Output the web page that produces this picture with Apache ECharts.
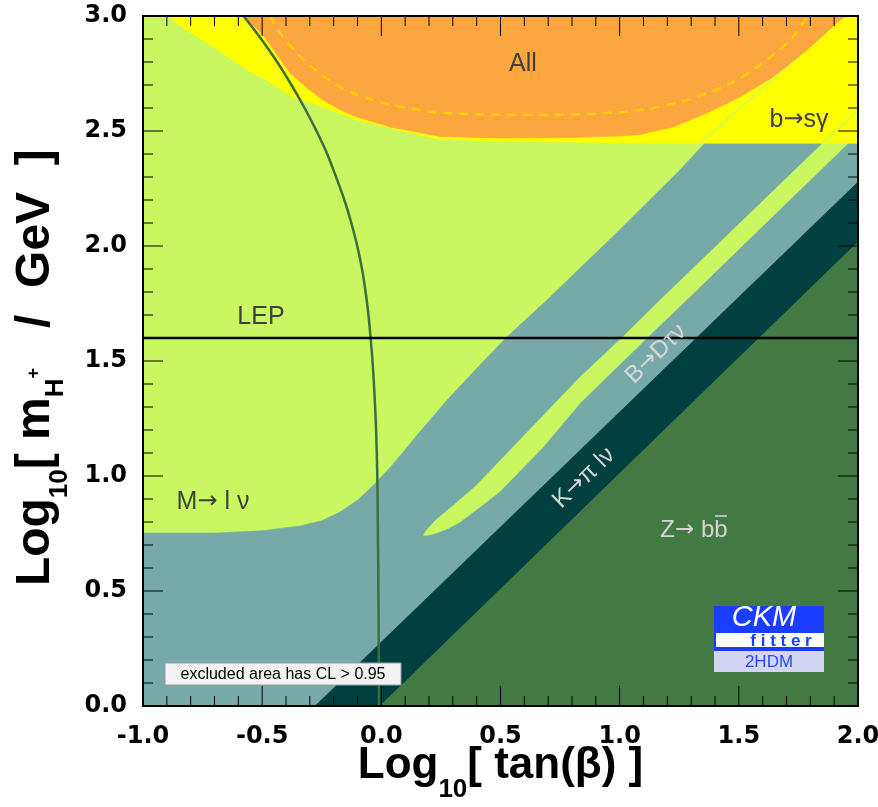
<!DOCTYPE html>
<html><head><meta charset="utf-8">
<script src="https://cdn.jsdelivr.net/npm/echarts@6/dist/echarts.min.js"></script>
<style>html,body{margin:0;padding:0;background:#fff}#c{width:878px;height:807px}</style>
</head><body><div id="c"></div>
<script>
// ---------- axes ----------
const xRange = [-1.0, 2.0];
const yRange = [0.0, 3.0];
const xTickLabels = ['-1.0','-0.5','0.0','0.5','1.0','1.5','2.0'];
const yTickLabels = ['0.0','0.5','1.0','1.5','2.0','2.5','3.0'];

// ---------- regions: [log10 tan(beta), log10 mH+] ----------
const regionPlot = [[-1.0,0.0],[2.0,0.0],[2.0,3.0],[-1.0,3.0]];
const regionMlnuBDtaunu = [[-1.0,0.0],[-1.0,0.752],[-0.7,0.752],[-0.5,0.762],[-0.34,0.783],[-0.25,0.805],[-0.173,0.843],[-0.1,0.895],[-0.035,0.958],[0.04,1.04],[0.1,1.115],[0.16,1.19],[0.276,1.33],[0.414,1.483],[0.527,1.604],[0.695,1.765],[1.0,2.07],[1.253,2.33],[1.36,2.45],[2.0,2.45],[2.0,0.0]];
const sliverBDtaunu = [[0.176,0.743],[0.19,0.765],[0.23,0.81],[0.30,0.87],[0.40,0.96],[0.553,1.126],[0.834,1.43],[1.009,1.6],[1.17,1.765],[1.855,2.45],[1.962,2.45],[1.28,1.765],[1.114,1.6],[0.834,1.317],[0.679,1.126],[0.50,0.935],[0.414,0.865],[0.33,0.80],[0.276,0.77],[0.23,0.752],[0.195,0.742]];
const bandKpilnu = [[-0.278,0.0],[2.0,2.278],[2.0,2.017],[-0.005,0.0]];
const regionZbb = [[-0.005,0.0],[2.0,2.017],[2.0,0.0]];
const regionBsgamma = [[-0.9,3.0],[-0.82,2.94],[-0.731,2.883],[-0.64,2.82],[-0.564,2.765],[-0.496,2.730],[-0.37,2.648],[-0.245,2.604],[-0.102,2.548],[0.036,2.513],[0.246,2.464],[0.5,2.456],[0.8,2.452],[1.2,2.447],[2.0,2.447],[2.0,3.0]];
const regionAll = [[-0.578,3.0],[-0.496,2.917],[-0.44,2.835],[-0.383,2.752],[-0.315,2.69],[-0.245,2.635],[-0.17,2.59],[-0.102,2.561],[0.036,2.517],[0.246,2.476],[0.5,2.47],[0.8,2.472],[1.0,2.478],[1.086,2.485],[1.224,2.517],[1.367,2.578],[1.505,2.648],[1.644,2.735],[1.786,2.852],[1.925,2.983],[1.95,3.0]];
const contourAllDashed = [[-0.467,3.0],[-0.413,2.909],[-0.312,2.796],[-0.173,2.691],[-0.035,2.635],[0.108,2.6],[0.267,2.578],[0.666,2.57],[0.9,2.575],[1.086,2.591],[1.25,2.625],[1.367,2.665],[1.48,2.715],[1.577,2.778],[1.715,2.896],[1.79,3.0]];
const contourMlnu = [[-0.578,3.0],[-0.504,2.9],[-0.437,2.8],[-0.377,2.7],[-0.322,2.6],[-0.272,2.5],[-0.227,2.4],[-0.19,2.3],[-0.155,2.2],[-0.126,2.1],[-0.101,2.0],[-0.081,1.9],[-0.066,1.8],[-0.054,1.7],[-0.045,1.6],[-0.037,1.5],[-0.031,1.4],[-0.026,1.3],[-0.022,1.2],[-0.017,1.0],[-0.013,0.6],[-0.011,0.3],[-0.01,0.0]];
const edgeBsgamma1 = [[1.34,2.45],[1.944,3.0]];
const edgeBsgamma2 = [[1.855,2.45],[2.0,2.59]];
const lepBound = [[-1.0,1.6],[2.0,1.6]];

// ---------- colours ----------
const C = {
  allowed:'#c8f75f', teal:'#77a9a8', dark:'#004040', zbb:'#437a43',
  yellow:'#ffff00', orange:'#fca640', dash:'#ffd200', curve:'#3c6e42'
};

function polySeries(name, pts, color, z) {
  return {
    type:'custom', name, coordinateSystem:'cartesian2d', xAxisIndex:0, yAxisIndex:0,
    z, silent:true, clip:true, data:pts, encode:{x:0,y:1},
    renderItem:(params, api) => params.dataIndex === 0 ? {
      type:'polygon', shape:{points: pts.map(p => api.coord(p))},
      style:{fill:color, stroke:color, lineWidth:0.6}
    } : null
  };
}
function lineSeries(name, pts, color, width, z, extra) {
  return Object.assign({
    type:'line', name, data:pts, xAxisIndex:0, yAxisIndex:0, z, silent:true,
    showSymbol:false, symbol:'none', smooth:0.3,
    lineStyle:{color, width}
  }, extra || {});
}
// frame + inward ticks (major every 0.5, minor every 0.1) on all four sides
const frameSeries = {
  type:'custom', name:'frame', coordinateSystem:'cartesian2d', xAxisIndex:0, yAxisIndex:0,
  z:50, silent:true, clip:false, data:[[xRange[0], yRange[0]]], encode:{x:0,y:1},
  renderItem:(params, api) => {
    const bl = api.coord([xRange[0], yRange[0]]), tr = api.coord([xRange[1], yRange[1]]);
    const ch = [];
    const st = {stroke:'#000', lineWidth:1};
    const nx = Math.round((xRange[1]-xRange[0])/0.1), ny = Math.round((yRange[1]-yRange[0])/0.1);
    for (let k = 0; k <= nx; k++) {
      const px = api.coord([xRange[0] + k*0.1, yRange[0]])[0];
      const len = k % 5 === 0 ? 20 : 10;
      ch.push({type:'line', shape:{x1:px, y1:bl[1], x2:px, y2:bl[1]-len}, style:st});
      ch.push({type:'line', shape:{x1:px, y1:tr[1], x2:px, y2:tr[1]+len}, style:st});
    }
    for (let k = 0; k <= ny; k++) {
      const py = api.coord([xRange[0], yRange[0] + k*0.1])[1];
      const len = k % 5 === 0 ? 20 : 10;
      ch.push({type:'line', shape:{x1:bl[0], y1:py, x2:bl[0]+len, y2:py}, style:st});
      ch.push({type:'line', shape:{x1:tr[0], y1:py, x2:tr[0]-len, y2:py}, style:st});
    }
    ch.push({type:'rect', shape:{x:bl[0], y:tr[1], width:tr[0]-bl[0], height:bl[1]-tr[1]}, style:{fill:null, stroke:'#000', lineWidth:2}});
    return params.dataIndex === 0 ? {type:'group', children:ch} : null;
  }
};

const TF = 'DejaVu Sans';
const HF = '"Liberation Sans", Arial, Helvetica, sans-serif';
const axisCommon = {
  type:'value',
  axisLine:{show:false}, axisTick:{show:false}, minorTick:{show:false},
  splitLine:{show:false}, minorSplitLine:{show:false}
};
const tickFmtX = v => { const i = Math.round((v - xRange[0]) / 0.5); return xTickLabels[i] ?? v.toFixed(1); };
const tickFmtY = v => { const i = Math.round((v - yRange[0]) / 0.5); return yTickLabels[i] ?? v.toFixed(1); };

function titleRich(size) {
  return {
    m:{fontSize:size, fontWeight:'bold', fontFamily:HF, color:'#000', lineHeight:50},
    s:{fontSize:26, fontWeight:'bold', fontFamily:HF, color:'#000', lineHeight:50, padding:[48,0,0,0]},
    h:{fontSize:26, fontWeight:'bold', fontFamily:HF, color:'#000', lineHeight:50, padding:[40,0,0,0]},
    p:{fontSize:18, fontWeight:'bold', fontFamily:HF, color:'#000', lineHeight:50, padding:[0,0,4,0]}
  };
}

function rl(text, x, y, col, size, rot) {
  return {type:'text', x, y, rotation:rot || 0, z:100, style:{
    text, align:'center', verticalAlign:'middle',
    rich:{a:{fontFamily:HF, fontSize:size, fill:col}, r:{fontFamily:TF, fontSize:size-1, fill:col}}
  }};
}

const option = {
  animation:false,
  backgroundColor:'#ffffff',
  grid:{left:143, top:16, width:715, height:690, show:false, containLabel:false, outerBoundsMode:'none'},
  xAxis:[
    Object.assign({}, axisCommon, {position:'bottom', min:xRange[0], max:xRange[1], interval:0.5,
      axisLabel:{show:true, margin:19, formatter:tickFmtX, fontFamily:TF, fontWeight:'bold', fontSize:24, color:'#000'},
      name:'{m|Log}{s|10}{m|[ tan(β) ]}', nameLocation:'middle', nameGap:35, nameMoveOverlap:false,
      nameTextStyle:{rich:titleRich(44)}}),
    Object.assign({}, axisCommon, {position:'top', min:xRange[0], max:xRange[1], interval:0.5, axisLabel:{show:false}})
  ],
  yAxis:[
    Object.assign({}, axisCommon, {position:'left', min:yRange[0], max:yRange[1], interval:0.5,
      axisLabel:{show:true, margin:16, formatter:tickFmtY, fontFamily:TF, fontWeight:'bold', fontSize:24, color:'#000'},
      name:'{m|Log}{s|10}{m|[ m}{h|H}{p|+}{m|   /  GeV  ] }', nameLocation:'middle', nameRotate:90, nameGap:82,
      nameTextStyle:{rich:titleRich(48)}}),
    Object.assign({}, axisCommon, {position:'right', min:yRange[0], max:yRange[1], interval:0.5, axisLabel:{show:false}})
  ],
  series:[
    polySeries('allowed', regionPlot, C.allowed, 1),
    polySeries('M→lν, B→Dτν', regionMlnuBDtaunu, C.teal, 2),
    polySeries('B→Dτν allowed', sliverBDtaunu, C.allowed, 3),
    polySeries('K→πlν', bandKpilnu, C.dark, 4),
    polySeries('Z→bb', regionZbb, C.zbb, 5),
    polySeries('b→sγ', regionBsgamma, C.yellow, 6),
    lineSeries('edge1', edgeBsgamma1, C.allowed, 1.5, 7, {smooth:false}),
    lineSeries('edge2', edgeBsgamma2, C.allowed, 1.5, 7, {smooth:false}),
    polySeries('All', regionAll, C.orange, 8),
    lineSeries('All dashed', contourAllDashed, C.dash, 2.5, 9, {lineStyle:{color:C.dash, width:2.5, type:[9,7]}}),
    lineSeries('M→lν contour', contourMlnu, C.curve, 2.5, 10, {smooth:0.3}),
    lineSeries('LEP', lepBound, '#000', 2.5, 11, {smooth:false}),
    frameSeries
  ],
  graphic:[
    rl('{a|All}', 523, 64, '#404040', 25),
    rl('{a|b}{r|→}{a|sγ}', 799, 120, '#404040', 25),
    rl('{a|LEP}', 261, 317, '#404040', 25),
    rl('{a|M}{r|→}{a| l ν}', 213, 502, '#404040', 25),
    rl('{a|Z}{r|→}{a| bb}', 694, 530, '#d4d4d4', 24),
    {type:'line', z:100, shape:{x1:715, y1:516, x2:727, y2:516}, style:{stroke:'#d4d4d4', lineWidth:1.5}},
    rl('{a|B}{r|→}{a|Dτν}', 656, 354, '#d8d8d8', 24, Math.PI*44/180),
    rl('{a|K}{r|→}{a|π lν}', 584, 478, '#d8d8d8', 24, Math.PI*44/180),
    {type:'rect', z:100, shape:{x:165, y:663, width:236, height:22}, style:{fill:'#f2f2f2', stroke:'#9a9a9a', lineWidth:1}},
    {type:'text', x:283, y:675, z:101, style:{text:'excluded area has CL > 0.95', font:'16px '+HF, fill:'#000', align:'center', verticalAlign:'middle'}},
    {type:'rect', z:100, shape:{x:714, y:606, width:110, height:45}, style:{fill:'#1a3dff'}},
    {type:'rect', z:101, shape:{x:716, y:633, width:108, height:14}, style:{fill:'#ffffff'}},
    {type:'rect', z:100, shape:{x:714, y:651, width:110, height:21}, style:{fill:'#d2d6f4'}},
    {type:'text', x:764, y:618, z:102, style:{text:'CKM', font:'italic 29px '+HF, fill:'#ffffff', align:'center', verticalAlign:'middle'}},
    {type:'text', x:781, y:641, z:102, style:{text:'f i t t e r', font:'bold 17px '+HF, fill:'#1a3dff', align:'center', verticalAlign:'middle'}},
    {type:'text', x:769, y:662, z:102, style:{text:'2HDM', font:'17px '+HF, fill:'#2a4af0', align:'center', verticalAlign:'middle'}}
  ]
};
const chart = echarts.init(document.getElementById('c'), null, {renderer:'canvas'});
chart.setOption(option);
</script></body></html>
